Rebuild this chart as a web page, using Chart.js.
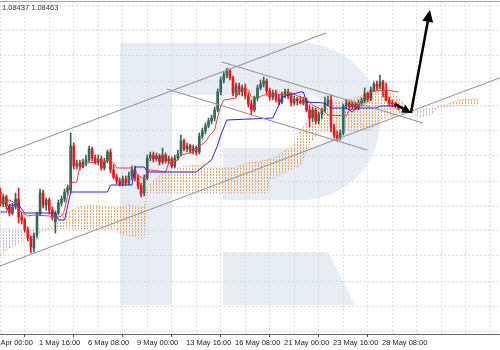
<!DOCTYPE html>
<html>
<head>
<meta charset="utf-8">
<script src="https://cdn.jsdelivr.net/npm/chart.js@4"></script>
<style>
html, body { margin: 0; padding: 0; background: #fff; overflow: hidden; width: 500px; height: 350px; }
#wrap { position: absolute; left: -40px; top: 0; width: 550px; height: 350px; }
</style>
</head>
<body>
<div id="wrap"><canvas id="chart"></canvas></div>
<script>
// H4 bars, index 0 = 29 Apr 00:00, first drawn bar is index 4
const firstBar = 4;
const opens = [1.0764,1.0752,1.0759,1.0750,1.0743,1.0749,1.0757,1.0739,1.0736,1.0726,
  1.0718,1.0708,1.0721,1.0742,1.0763,1.0751,1.0756,1.0746,1.0734,1.0743,
  1.0753,1.0757,1.0764,1.0766,1.0810,1.0790,1.0793,1.0789,1.0794,1.0796,
  1.0807,1.0798,1.0794,1.0797,1.0788,1.0795,1.0804,1.0786,1.0779,1.0775,
  1.0772,1.0777,1.0773,1.0780,1.0786,1.0778,1.0770,1.0763,1.0778,1.0798,
  1.0801,1.0797,1.0800,1.0794,1.0801,1.0795,1.0797,1.0790,1.0798,1.0802,
  1.0815,1.0807,1.0810,1.0805,1.0808,1.0804,1.0820,1.0825,1.0830,1.0835,
  1.0838,1.0846,1.0864,1.0876,1.0881,1.0885,1.0878,1.0863,1.0870,1.0864,
  1.0868,1.0860,1.0852,1.0846,1.0858,1.0868,1.0872,1.0875,1.0865,1.0859,
  1.0863,1.0857,1.0854,1.0861,1.0864,1.0860,1.0853,1.0857,1.0855,1.0853,
  1.0856,1.0846,1.0838,1.0846,1.0835,1.0842,1.0846,1.0853,1.0856,1.0829,
  1.0821,1.0818,1.0823,1.0850,1.0853,1.0849,1.0852,1.0848,1.0853,1.0855,
  1.0862,1.0857,1.0866,1.0872,1.0869,1.0874,1.0866,1.0856,1.0853,1.0852,
  1.0850];
const highs = [1.0768,1.0762,1.0761,1.0752,1.0753,1.0763,1.0768,1.0744,1.0738,1.0729,
  1.0720,1.0723,1.0744,1.0767,1.0766,1.0758,1.0758,1.0749,1.0745,1.0756,
  1.0760,1.0767,1.0771,1.0823,1.0813,1.0796,1.0796,1.0797,1.0801,1.0810,
  1.0809,1.0801,1.0801,1.0800,1.0798,1.0806,1.0807,1.0791,1.0782,1.0778,
  1.0780,1.0780,1.0784,1.0790,1.0790,1.0781,1.0773,1.0781,1.0801,1.0804,
  1.0804,1.0803,1.0802,1.0808,1.0803,1.0800,1.0799,1.0801,1.0806,1.0821,
  1.0817,1.0813,1.0812,1.0811,1.0810,1.0823,1.0828,1.0833,1.0838,1.0841,
  1.0849,1.0867,1.0879,1.0884,1.0888,1.0887,1.0880,1.0873,1.0873,1.0871,
  1.0872,1.0863,1.0856,1.0860,1.0871,1.0876,1.0879,1.0877,1.0868,1.0866,
  1.0866,1.0861,1.0864,1.0867,1.0867,1.0863,1.0860,1.0859,1.0860,1.0859,
  1.0858,1.0851,1.0849,1.0848,1.0844,1.0848,1.0859,1.0860,1.0861,1.0832,
  1.0825,1.0826,1.0852,1.0856,1.0855,1.0855,1.0854,1.0856,1.0858,1.0868,
  1.0864,1.0869,1.0874,1.0875,1.0881,1.0876,1.0873,1.0859,1.0856,1.0854,
  1.0852];
const lows = [1.0750,1.0749,1.0747,1.0740,1.0741,1.0747,1.0733,1.0732,1.0724,1.0715,
  1.0703,1.0704,1.0718,1.0740,1.0748,1.0746,1.0742,1.0736,1.0723,1.0741,
  1.0750,1.0754,1.0761,1.0763,1.0787,1.0787,1.0786,1.0788,1.0790,1.0794,
  1.0795,1.0792,1.0791,1.0786,1.0786,1.0793,1.0783,1.0777,1.0772,1.0770,
  1.0770,1.0771,1.0771,1.0776,1.0775,1.0767,1.0759,1.0760,1.0776,1.0795,
  1.0794,1.0795,1.0791,1.0792,1.0793,1.0792,1.0788,1.0788,1.0796,1.0800,
  1.0805,1.0804,1.0803,1.0802,1.0801,1.0802,1.0817,1.0822,1.0828,1.0832,
  1.0835,1.0844,1.0861,1.0873,1.0878,1.0876,1.0860,1.0859,1.0861,1.0860,
  1.0857,1.0849,1.0841,1.0844,1.0855,1.0866,1.0869,1.0862,1.0856,1.0856,
  1.0854,1.0851,1.0852,1.0858,1.0857,1.0850,1.0851,1.0851,1.0852,1.0851,
  1.0844,1.0829,1.0834,1.0832,1.0832,1.0837,1.0844,1.0850,1.0824,1.0818,
  1.0815,1.0816,1.0821,1.0847,1.0847,1.0847,1.0846,1.0846,1.0850,1.0853,
  1.0854,1.0855,1.0864,1.0866,1.0867,1.0859,1.0855,1.0850,1.0849,1.0848,
  1.0846];
const closes = [1.0752,1.0759,1.0750,1.0743,1.0749,1.0757,1.0739,1.0736,1.0726,1.0718,
  1.0709,1.0721,1.0742,1.0763,1.0751,1.0756,1.0746,1.0739,1.0743,1.0753,
  1.0757,1.0764,1.0768,1.0810,1.0790,1.0793,1.0789,1.0794,1.0796,1.0807,
  1.0798,1.0794,1.0797,1.0788,1.0795,1.0804,1.0786,1.0779,1.0775,1.0772,
  1.0777,1.0773,1.0780,1.0786,1.0778,1.0770,1.0762,1.0778,1.0798,1.0801,
  1.0797,1.0800,1.0794,1.0801,1.0795,1.0797,1.0790,1.0798,1.0802,1.0815,
  1.0807,1.0810,1.0805,1.0808,1.0804,1.0820,1.0825,1.0830,1.0835,1.0838,
  1.0846,1.0864,1.0876,1.0881,1.0885,1.0878,1.0863,1.0870,1.0864,1.0868,
  1.0860,1.0852,1.0846,1.0858,1.0868,1.0872,1.0875,1.0865,1.0859,1.0863,
  1.0857,1.0854,1.0861,1.0864,1.0860,1.0853,1.0857,1.0855,1.0853,1.0856,
  1.0846,1.0838,1.0846,1.0835,1.0842,1.0846,1.0853,1.0856,1.0829,1.0821,
  1.0818,1.0823,1.0850,1.0853,1.0849,1.0852,1.0848,1.0853,1.0855,1.0862,
  1.0857,1.0866,1.0872,1.0869,1.0874,1.0866,1.0856,1.0853,1.0852,1.0850,
  1.0848];

// Ichimoku lines, read where they change
const tenkanBars = [4,7,9,10,13,15,20,22,24,25,26,27,29,30,32,37,40,41,42,47,49,51,52,53,58,59,62,63,67,69,
  71,72,74,75,76,77,81,82,85,86,88,90,94,99,102,104,106,108,110,111,117,118,121,122,124,126,130,134];
const tenkanVals = [1.0753,1.0756,1.0753,1.0746,1.0740,1.0741,1.0740,1.0738,1.0740,1.0746,
  1.0761,1.0773,1.0774,1.0790,1.0793,1.0794,1.0796,1.0793,1.0788,1.0788,
  1.0781,1.0777,1.0784,1.0786,1.0784,1.0793,1.0796,1.0801,1.0804,1.0810,
  1.0814,1.0819,1.0826,1.0839,1.0850,1.0856,1.0858,1.0866,1.0866,1.0859,
  1.0858,1.0861,1.0861,1.0863,1.0859,1.0856,1.0851,1.0848,1.0844,1.0841,
  1.0840,1.0846,1.0848,1.0856,1.0862,1.0865,1.0866,1.0864];
const kijunBars = [4,6,7,10,12,22,23,25,27,39,40,47,48,51,52,68,70,73,75,76,78,93,95,96,102,103,104,110,112,117,
  119,120,127,128,134];
const kijunVals = [1.0744,1.0744,1.0751,1.0751,1.0743,1.0743,1.0736,1.0736,1.0764,1.0764,
  1.0771,1.0771,1.0789,1.0789,1.0784,1.0784,1.0789,1.0796,1.0811,1.0821,
  1.0836,1.0838,1.0851,1.0859,1.0864,1.0864,1.0854,1.0853,1.0848,1.0848,
  1.0844,1.0848,1.0848,1.0850,1.0850];
const spanABars = [4,7,10,14,17,20,23,24,26,30,33,37,42,46,51,52,55,57,63,67,
  74,80,85,91,94,96,99,101,102,104,105,108,113,117,121,124,128,131,134,138,141,145,147,150,154,160];
const spanAVals = [1.0701,1.0708,1.0713,1.0720,1.0724,1.0728,1.0734,1.0741,1.0744,1.0749,
  1.0751,1.0750,1.0748,1.0751,1.0749,1.0769,1.0778,1.0783,1.0789,1.0791,
  1.0788,1.0788,1.0793,1.0796,1.0799,1.0804,1.0808,1.0819,1.0824,1.0834,
  1.0841,1.0849,1.0853,1.0856,1.0859,1.0864,1.0869,1.0863,1.0859,1.0844,
  1.0839,1.0842,1.0850,1.0852,1.0856,1.0858];
const spanBBars = [4,42,43,51,52,91,92,102,105,108,125,128,135,139,141,145,153,160];
const spanBVals = [1.0727,1.0727,1.0722,1.0718,1.0763,1.0763,1.0776,1.0791,1.0811,1.0824,
  1.0826,1.0836,1.0843,1.0844,1.0846,1.0848,1.0850,1.0851];

// drawn lines: [bar, price] end points
const channelUpper = [[-9.14, 1.0786], [110.37, 1.0923]];
const channelLower = [[-9.14, 1.0675], [170.45, 1.0882]];
const flagUpper = [[76.41, 1.0894], [142.04, 1.0833]];
const flagLower = [[58.45, 1.0867], [123.76, 1.0806]];
const forecast = [[132.9, 1.0852], [138.1, 1.0843], [144.3, 1.0946]];

const tickLabels = ['29 Apr 00:00', '1 May 16:00', '6 May 08:00', '9 May 00:00', '13 May 16:00',
  '16 May 08:00', '21 May 00:00', '23 May 16:00', '28 May 08:00'];
const priceTicks = [1.0625,1.0650,1.0675,1.0700,1.0725,1.0750,1.0775,1.0800,1.0825,1.0850,1.0875,1.0900,1.0925,1.0950];
const lastValues = '1.08437 1.08463';

const bull = '#33685a';
const bear = '#ee1515';
const shift = 40;  // canvas sits 40px left of the window
const labelFont = "'Liberation Sans', Arial, sans-serif";

function hatch(color) {
    const c = document.createElement('canvas');
    c.width = 3; c.height = 3;
    const g = c.getContext('2d');
    g.fillStyle = color;
    g.fillRect(1, 0, 1, 2);
    return g.createPattern(c, 'repeat');
}

function points(bars, vals) {
    return bars.map((x, k) => ({ x, y: vals[k] }));
}

function drawLine(pts, color) {
    return {
        type: 'line', data: pts.map(p => ({ x: p[0], y: p[1] })),
        borderColor: color, borderWidth: 1.1, pointRadius: 0, fill: false, order: 2
    };
}

function arrowTo(ctx, x1, y1, x2, y2, len, half) {
    const a = Math.atan2(y2 - y1, x2 - x1);
    const bx = x2 - Math.cos(a) * len, by = y2 - Math.sin(a) * len;
    ctx.beginPath();
    ctx.moveTo(x1, y1);
    ctx.lineTo(bx, by);
    ctx.stroke();
    ctx.beginPath();
    ctx.moveTo(x2, y2);
    ctx.lineTo(bx + Math.sin(a) * half, by - Math.cos(a) * half);
    ctx.lineTo(bx - Math.sin(a) * half, by + Math.cos(a) * half);
    ctx.closePath();
    ctx.fill();
}

const decor = {
    id: 'decor',
    beforeDraw(chart) {
        // watermark letter
        const ctx = chart.ctx;
        ctx.save();
        ctx.translate(shift, 0);
        ctx.fillStyle = '#e8ecf3';
        ctx.beginPath();
        ctx.moveTo(120, 43);
        ctx.lineTo(301.5, 43);
        ctx.arc(301.5, 121.5, 78.5, -Math.PI / 2, Math.PI / 2);
        ctx.lineTo(223, 200);
        ctx.lineTo(223, 148);
        ctx.lineTo(172, 148);
        ctx.lineTo(172, 305);
        ctx.lineTo(120, 305);
        ctx.closePath();
        ctx.moveTo(172, 95);
        ctx.lineTo(308, 95);
        ctx.arc(308, 121.5, 26.5, -Math.PI / 2, Math.PI / 2);
        ctx.lineTo(172, 148);
        ctx.closePath();
        ctx.fill('evenodd');
        ctx.beginPath();
        ctx.moveTo(223, 252);
        ctx.lineTo(328, 252);
        ctx.lineTo(355, 305);
        ctx.lineTo(223, 305);
        ctx.closePath();
        ctx.fill();
        ctx.restore();
    },
    afterDatasetsDraw(chart) {
        const ctx = chart.ctx, xs = chart.scales.x, ys = chart.scales.y;
        const p = forecast.map(q => [xs.getPixelForValue(q[0]), ys.getPixelForValue(q[1])]);
        ctx.save();
        ctx.strokeStyle = '#000';
        ctx.fillStyle = '#000';
        ctx.lineWidth = 2.5;
        arrowTo(ctx, p[0][0], p[0][1], p[1][0], p[1][1], 9, 4.5);
        arrowTo(ctx, p[1][0], p[1][1], p[2][0], p[2][1], 12, 5.5);
        ctx.restore();
    },
    afterDraw(chart) {
        const ctx = chart.ctx, top = chart.chartArea.top;
        ctx.save();
        ctx.strokeStyle = '#a8a8a8';
        ctx.lineWidth = 1;
        ctx.beginPath();
        ctx.moveTo(0, top + 0.5);
        ctx.lineTo(chart.width, top + 0.5);
        ctx.stroke();
        ctx.fillStyle = '#333';
        ctx.font = '7.5px ' + labelFont;
        ctx.textBaseline = 'middle';
        ctx.fillText(lastValues, shift + 2, 8);
        ctx.restore();
    }
};

const bars = opens.map((_, k) => firstBar + k);
const colors = opens.map((o, k) => closes[k] >= o ? bull : bear);

new Chart(document.getElementById('chart'), {
    type: 'line',
    data: {
        datasets: [
            {
                data: points(spanABars, spanAVals), borderColor: '#f4a460', borderWidth: 1,
                borderDash: [1, 2], pointRadius: 0,
                fill: { target: 1, above: hatch('#f2a35e'), below: hatch('#cfb0dc') }, order: 10
            },
            {
                data: points(spanBBars, spanBVals), borderColor: '#cfb3dc', borderWidth: 1,
                borderDash: [1, 2], pointRadius: 0, fill: false, order: 9
            },
            {
                type: 'bar', data: bars.map((x, k) => ({ x, y: [lows[k], highs[k]] })),
                backgroundColor: colors, barThickness: 1, grouped: false, order: 8
            },
            {
                type: 'bar', data: bars.map((x, k) => ({ x, y: [opens[k], closes[k]] })),
                backgroundColor: colors, barThickness: 2, grouped: false, minBarLength: 1, order: 7
            },
            {
                data: points(tenkanBars, tenkanVals), borderColor: '#f03a3a', borderWidth: 1,
                pointRadius: 0, fill: false, order: 5
            },
            {
                data: points(kijunBars, kijunVals), borderColor: '#2424f0', borderWidth: 1,
                pointRadius: 0, fill: false, order: 4
            },
            drawLine(channelUpper, '#959595'),
            drawLine(channelLower, '#959595'),
            drawLine(flagUpper, '#959595'),
            drawLine(flagLower, '#959595')
        ]
    },
    options: {
        responsive: true,
        maintainAspectRatio: false,
        animation: false,
        layout: { padding: { top: 1, left: 0, right: 0, bottom: 0 } },
        plugins: { legend: { display: false }, tooltip: { enabled: false } },
        scales: {
            x: {
                type: 'linear', min: -9.1429, max: 170.449, offset: false,
                afterBuildTicks: s => {
                    s.ticks = [];
                    for (let v = 0; v <= 168; v += 8) s.ticks.push({ value: v });
                },
                afterFit: s => { s.height = 16; },
                grid: {
                    color: '#dcdcdc', lineWidth: 1, tickLength: 3, tickWidth: 1,
                    tickColor: c => (c.tick && c.tick.value % 16 === 0 && c.tick.value / 16 < tickLabels.length) ? '#444' : 'rgba(0,0,0,0)'
                },
                border: { display: true, color: '#666', width: 1, dash: [2, 2] },
                ticks: {
                    autoSkip: false, maxRotation: 0, minRotation: 0, align: 'start', labelOffset: 2, padding: 1,
                    color: '#222',
                    font: { family: labelFont, size: 7.5 },
                    callback: v => (v % 16 === 0 && v / 16 < tickLabels.length) ? tickLabels[v / 16] : ''
                }
            },
            y: {
                min: 1.0622, max: 1.0955,
                afterBuildTicks: s => { s.ticks = priceTicks.map(v => ({ value: v })); },
                afterFit: s => { s.width = 0; },
                grid: { color: '#dcdcdc', drawTicks: false },
                border: { display: false, dash: [2, 2] },
                ticks: { display: false }
            }
        }
    },
    plugins: [decor]
});
</script>
</body>
</html>
